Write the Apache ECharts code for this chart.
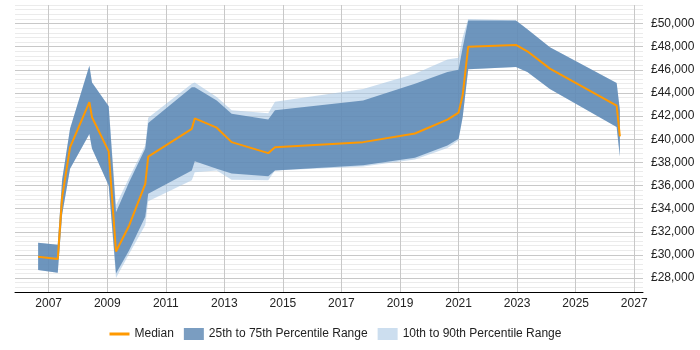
<!DOCTYPE html>
<html>
<head>
<meta charset="utf-8">
<script src="https://cdn.jsdelivr.net/npm/echarts@6/dist/echarts.min.js"></script>
<style>
  html, body { margin: 0; padding: 0; background: #fff; }
  #chart { width: 700px; height: 350px; }
</style>
</head>
<body>
<div id="chart"></div>
<script>
// Salary percentiles over time (GBP).
const years  = [2006.64, 2007.31, 2007.46, 2007.73, 2008.39, 2008.48, 2009.05, 2009.30, 2009.75, 2010.30,
                2010.40, 2011.89, 2011.99, 2012.74, 2013.25, 2014.50, 2014.73, 2017.74, 2019.51, 2020.62,
                2021.00, 2021.14, 2021.33, 2022.96, 2023.35, 2024.12, 2026.40, 2026.51];
const median = [29850, 29650, 35000, 39300, 43200, 41900, 38950, 30300, 32550, 36150,
                38500, 40900, 41800, 41000, 39750, 38800, 39300, 39750, 40500, 41700,
                42300, 43800, 48000, 48150, 47600, 46100, 42900, 40250];
const p25    = [28700, 28470, 33500, 37450, 40450, 39200, 36000, 28400, 30400, 33300,
                35300, 37300, 38100, 37450, 37050, 36800, 37300, 37750, 38400, 39450,
                40050, 41900, 46050, 46250, 45800, 44350, 41050, 38500];
const p75    = [31050, 30880, 36500, 40900, 46350, 44900, 42850, 33700, 36300, 39200,
                41400, 44500, 44500, 43350, 42200, 41700, 42500, 43350, 44800, 45800,
                46000, 47900, 50250, 50250, 49500, 47950, 44850, 42500];
const p10    = [28700, 28470, 33500, 37450, 40450, 39200, 36000, 28000, 30100, 32600,
                34650, 36450, 37150, 37300, 36500, 36450, 37300, 37650, 38250, 39250,
                39900, 41900, 46050, 46250, 45800, 44350, 41050, 38500];
const p90    = [31050, 30880, 36500, 40900, 46350, 44900, 42850, 34300, 36700, 39450,
                41850, 44800, 44900, 43650, 42500, 42250, 43250, 44350, 45650, 46900,
                47050, 48800, 50400, 50250, 49500, 47950, 44850, 42500];

const xTickYears = [2007, 2009, 2011, 2013, 2015, 2017, 2019, 2021, 2023, 2025, 2027];
const yLabelValues = [28000, 30000, 32000, 34000, 36000, 38000, 40000, 42000, 44000, 46000, 48000, 50000];

const ORANGE = '#ff9900';
const BAND_DARK = 'rgba(80,126,174,0.76)';
const BAND_LIGHT = 'rgba(170,200,228,0.6)';
const FONT = "'Liberation Sans', Arial, sans-serif";

// draw a band as one polygon: upper edge forward, lower edge back
function bandSeries(name, lower, upper, color) {
  return {
    name: name,
    type: 'custom',
    itemStyle: { color: color },
    data: years.map((x, i) => [x, upper[i]]),
    renderItem: function (params, api) {
      if (params.dataIndex !== 0) return;
      const pts = [];
      for (let i = 0; i < years.length; i++) pts.push(api.coord([years[i], upper[i]]));
      for (let i = years.length - 1; i >= 0; i--) pts.push(api.coord([years[i], lower[i]]));
      return {
        type: 'polygon',
        shape: { points: pts },
        style: { fill: color }
      };
    },
    silent: true,
    z: 1
  };
}

const chart = echarts.init(document.getElementById('chart'), null, { renderer: 'canvas' });

chart.setOption({
  animation: false,
  textStyle: { fontFamily: FONT },
  grid: { left: 15, right: 57, top: 5, bottom: 58, containLabel: false },
  legend: {
    left: 103,
    top: 323,
    itemWidth: 20,
    itemHeight: 12,
    itemGap: 10,
    textStyle: { fontFamily: FONT, fontSize: 12, color: '#222' },
    data: [
      // hide the round marker, keep just the line
      { name: 'Median', itemStyle: { opacity: 0 }, lineStyle: { width: 3 } },
      { name: '25th to 75th Percentile Range', icon: 'rect' },
      { name: '10th to 90th Percentile Range', icon: 'rect' }
    ]
  },
  xAxis: {
    type: 'value',
    min: 2005.85,
    max: 2027.3,
    axisLine: { show: true, lineStyle: { color: '#000', width: 1 } },
    axisTick: { show: false, customValues: xTickYears },
    axisLabel: {
      customValues: xTickYears,
      margin: 6,
      color: '#222',
      fontSize: 12,
      fontFamily: FONT,
      formatter: v => String(Math.round(v))
    },
    splitLine: { show: true, lineStyle: { color: '#c8c8c8', width: 1 } }
  },
  yAxis: {
    type: 'value',
    position: 'right',
    min: 26800,
    max: 51600,
    interval: 400,
    axisLine: { show: false },
    axisTick: { show: false },
    axisLabel: {
      margin: 8,
      color: '#222',
      fontSize: 12,
      fontFamily: FONT,
      formatter: v => yLabelValues.indexOf(v) >= 0 ? '£' + v.toLocaleString('en-GB') : ''
    },
    splitLine: {
      show: true,
      lineStyle: { color: ['#ebebeb', '#ebebeb', '#ebebeb', '#c8c8c8', '#ebebeb'], width: 1 }
    }
  },
  series: [
    bandSeries('10th to 90th Percentile Range', p10, p90, BAND_LIGHT),
    bandSeries('25th to 75th Percentile Range', p25, p75, BAND_DARK),
    {
      name: 'Median',
      type: 'line',
      data: years.map((x, i) => [x, median[i]]),
      symbol: 'none',
      lineStyle: { color: ORANGE, width: 2 },
      itemStyle: { color: ORANGE },
      z: 3
    }
  ]
});
</script>
</body>
</html>
